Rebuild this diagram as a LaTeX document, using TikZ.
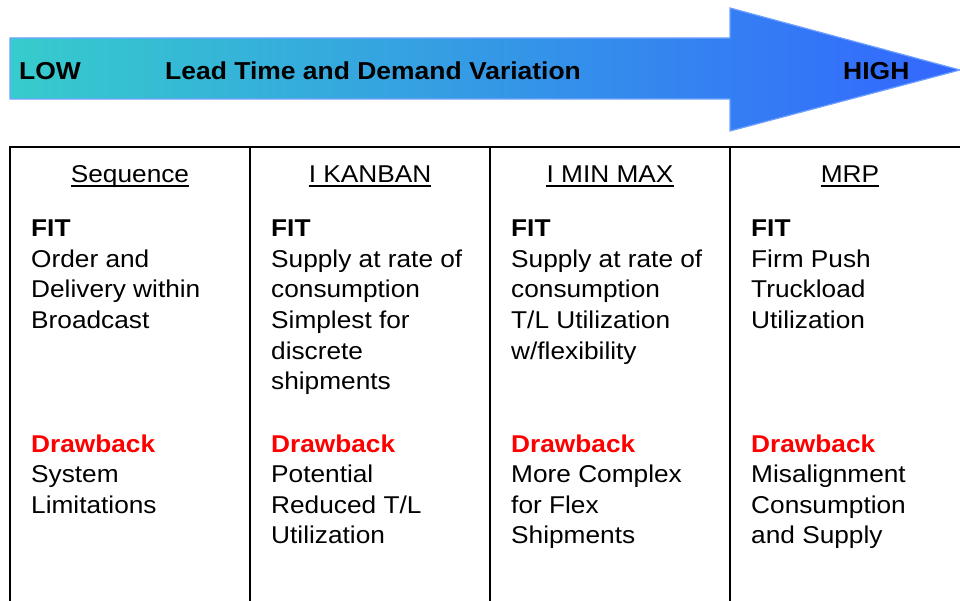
\documentclass[tikz,border=0pt]{standalone}
\usepackage{fontspec}
\setmainfont{Liberation Sans}[FakeStretch=1.08]
\definecolor{teal1}{RGB}{54,204,204}
\definecolor{blue1}{RGB}{51,102,255}
\definecolor{edgeblue}{RGB}{110,160,255}
\definecolor{drawred}{RGB}{255,0,0}
\newcommand\colblock[4]{%
  \foreach \t [count=\i] in {#4} {
    \node[txt] (#1\i) at (#2,{#3+30.5*(\i-1)}) {\t};
  }}
\begin{document}
\begin{tikzpicture}[x=1pt,y=-1pt,
  txt/.style={anchor=base west,inner sep=0pt,font=\fontsize{24.3}{30}\selectfont},
  hdr/.style={anchor=base,inner sep=0pt,font=\fontsize{24.3}{30}\selectfont},
  fitlab/.style={txt,font=\fontsize{24.3}{30}\selectfont\bfseries},
  drawlab/.style={txt,font=\fontsize{24.3}{30}\selectfont\bfseries,text=drawred},
  arrlab/.style={anchor=base west,inner sep=0pt,font=\fontsize{24.5}{30}\selectfont\bfseries},
  grid/.style={line width=1.8pt,black},
  uline/.style={line width=1.6pt,black}]
\useasboundingbox (0,0) rectangle (960,601);
% gradient arrow
\shade[left color=teal1,right color=blue1,draw=edgeblue,line width=1.2pt]
  (10,38) -- (730,38) -- (730,8) -- (960,70) -- (730,131) -- (730,99) -- (10,99) -- cycle;
\node[arrlab] (low) at (19,80) {LOW};
\node[arrlab] (title) at (165,80) {Lead Time and Demand Variation};
\node[arrlab] (high) at (843,80) {HIGH};
% table
\coordinate (tl) at (10,147);
\coordinate (tr) at (960,147);
\coordinate (bl) at (10,601);
\draw[grid] (tr) -- (tl) -- (bl);
\foreach \xx/\nm in {250/d1,490/d2,730/d3} {
  \coordinate (\nm t) at (\xx,147);
  \coordinate (\nm b) at (\xx,601);
  \draw[grid] (\nm t) -- (\nm b);
}
% headers
\foreach \cx/\nm/\hd in {130/ha/Sequence,370/hb/I KANBAN,610/hc/I MIN MAX,850/hd/MRP} {
  \node[hdr] (\nm) at (\cx,183) {\hd};
  \draw[uline] ([yshift=-2.8pt]\nm.base west) -- ([yshift=-2.8pt]\nm.base east);
}
% FIT labels
\foreach \xx/\nm in {31/fa,271/fb,511/fc,751/fd} {
  \node[fitlab] (\nm) at (\xx,237) {FIT};
  \node[drawlab] (\nm d) at (\xx,452) {Drawback};
}
% column texts
\colblock{sa}{31}{267.5}{Order and,Delivery within,Broadcast}
\colblock{sb}{271}{267.5}{Supply at rate of,consumption,Simplest for,discrete,shipments}
\colblock{sc}{511}{267.5}{Supply at rate of,consumption,T/L Utilization,w/flexibility}
\colblock{sd}{751}{267.5}{Firm Push,Truckload,Utilization}
\colblock{da}{31}{482.5}{System,Limitations}
\colblock{db}{271}{482.5}{Potential,Reduced T/L,Utilization}
\colblock{dc}{511}{482.5}{More Complex,for Flex,Shipments}
\colblock{dd}{751}{482.5}{Misalignment,Consumption,and Supply}
\end{tikzpicture}
\end{document}
